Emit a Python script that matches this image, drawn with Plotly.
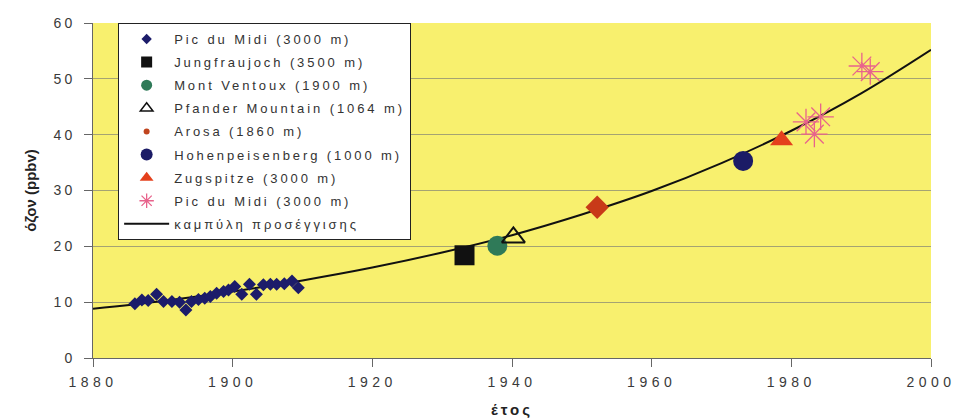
import plotly.graph_objects as go

# Pic du Midi (early series, diamonds)
pdm_years = [1886.0, 1887.0, 1887.9, 1889.1, 1890.1, 1891.3, 1892.4, 1893.3, 1894.1, 1895.1,
             1896.0, 1896.8, 1897.7, 1898.7, 1899.4, 1900.3, 1901.3, 1902.4, 1903.4, 1904.4,
             1905.4, 1906.3, 1907.4, 1908.5, 1909.4]
pdm_ozone = [9.7, 10.4, 10.3, 11.4, 10.1, 10.1, 10.0, 8.6, 10.1, 10.5,
             10.7, 11.0, 11.6, 11.9, 12.2, 12.8, 11.4, 13.2, 11.4, 13.1,
             13.2, 13.2, 13.3, 13.8, 12.6]

jung_year, jung_ozone = [1933.2], [18.4]
vent_year, vent_ozone = [1937.9], [20.1]
pfan_year, pfan_ozone = [1940.2], [21.6]
aros_year, aros_ozone = [1952.2], [27.0]
hohe_year, hohe_ozone = [1973.1], [35.3]
zugs_year, zugs_ozone = [1978.6], [39.0]

pdm2_years = [1982.1, 1984.2, 1983.3, 1990.1, 1991.3]
pdm2_ozone = [42.3, 43.2, 40.1, 52.3, 51.3]

curve_years = [1880, 1890, 1900, 1910, 1920, 1930, 1940, 1950, 1960, 1970, 1980, 1990, 2000]
curve_ozone = [8.8, 10.2, 11.9, 13.9, 16.2, 18.9, 22.0, 25.7, 29.9, 34.9, 40.7, 47.4, 55.2]

x_ticks = [1880, 1900, 1920, 1940, 1960, 1980, 2000]
y_ticks = [0, 10, 20, 30, 40, 50, 60]

series_names = ["Pic du Midi (3000 m)", "Jungfraujoch (3500 m)", "Mont Ventoux (1900 m)",
                "Pfander Mountain (1064 m)", "Arosa (1860 m)", "Hohenpeisenberg (1000 m)",
                "Zugspitze (3000 m)", "Pic du Midi (3000 m)", "καμπύλη προσέγγισης"]

fig = go.Figure()

# plotted marks (legend handled separately with small icons)
fig.add_trace(go.Scatter(x=curve_years, y=curve_ozone, mode="lines", line_shape="spline",
                         line=dict(color="#111111", width=2), showlegend=False, hoverinfo="skip"))
fig.add_trace(go.Scatter(x=pdm_years, y=pdm_ozone, mode="markers", showlegend=False,
                         marker=dict(symbol="diamond", size=10, color="#1c1c6a")))
fig.add_trace(go.Scatter(x=jung_year, y=jung_ozone, mode="markers", showlegend=False,
                         marker=dict(symbol="square", size=20, color="#111111")))
fig.add_trace(go.Scatter(x=vent_year, y=vent_ozone, mode="markers", showlegend=False,
                         marker=dict(symbol="circle", size=20, color="#2f7a58")))
fig.add_trace(go.Scatter(x=pfan_year, y=pfan_ozone, mode="markers", showlegend=False,
                         marker=dict(symbol="triangle-up-open", size=20, color="#111111",
                                     line=dict(width=2))))
fig.add_trace(go.Scatter(x=aros_year, y=aros_ozone, mode="markers", showlegend=False,
                         marker=dict(symbol="diamond", size=18, color="#c83a18")))
fig.add_trace(go.Scatter(x=hohe_year, y=hohe_ozone, mode="markers", showlegend=False,
                         marker=dict(symbol="circle", size=20, color="#1b1b66")))
fig.add_trace(go.Scatter(x=zugs_year, y=zugs_ozone, mode="markers", showlegend=False,
                         marker=dict(symbol="triangle-up", size=20, color="#e4401c")))
fig.add_trace(go.Scatter(x=pdm2_years, y=pdm2_ozone, mode="markers", showlegend=False,
                         marker=dict(symbol="asterisk-open", size=22, color="#e8638c",
                                     line=dict(width=1.3, color="#e8638c"))))

# legend entries (small icons, like the original legend)
legend_markers = [
    dict(symbol="diamond", size=8, color="#1c1c6a"),
    dict(symbol="square", size=11, color="#111111"),
    dict(symbol="circle", size=11, color="#2f7a58"),
    dict(symbol="triangle-up-open", size=11, color="#111111", line=dict(width=1.5)),
    dict(symbol="circle", size=6, color="#c0441e"),
    dict(symbol="circle", size=12, color="#1b1b66"),
    dict(symbol="triangle-up", size=12, color="#e4401c"),
    dict(symbol="asterisk-open", size=12, color="#e8638c", line=dict(width=1.3, color="#e8638c")),
]
for i, name in enumerate(series_names[:-1]):
    fig.add_trace(go.Scatter(x=[None], y=[None], mode="markers", name=name,
                             marker=legend_markers[i], legendgroup=f"g{i}", showlegend=True))
fig.add_trace(go.Scatter(x=[None], y=[None], mode="lines", name=series_names[-1],
                         line=dict(color="#111111", width=2), legendgroup="g8", showlegend=True))

font_fam = "Liberation Sans, Arial, sans-serif"
fig.update_layout(
    width=956, height=418,
    margin=dict(l=93, r=25, t=23, b=60),
    paper_bgcolor="white",
    plot_bgcolor="#f8f06e",
    font=dict(family=font_fam, size=14, color="#333333"),
    showlegend=True,
    legend=dict(x=0.03, y=1.0, xanchor="left", yanchor="top",
                bgcolor="white", bordercolor="#222222", borderwidth=1,
                font=dict(size=13, color="#333333"), tracegroupgap=3.2,
                itemwidth=45, itemsizing="trace"),
    xaxis=dict(range=[1880, 2000], tickvals=x_ticks, ticktext=[str(v) for v in x_ticks],
               showgrid=False, zeroline=False, showline=True, linecolor="#666666",
               ticks="outside", ticklen=8, tickcolor="#666666", automargin=False,
               ticklabelstandoff=3,
               tickfont=dict(size=14, color="#3a3a3a"),
               title=dict(text="<b>έτος</b>", font=dict(size=15, color="#222222"), standoff=18)),
    yaxis=dict(range=[0, 60], tickvals=y_ticks, showgrid=True, gridcolor="#a5a373", gridwidth=1,
               zeroline=False, showline=True, linecolor="#666666", automargin=False,
               ticks="outside", ticklen=8, tickcolor="#666666", ticklabelstandoff=6,
               tickfont=dict(size=14, color="#3a3a3a"),
               title=dict(text="<b>όζον (ppbv)</b>", font=dict(size=15, color="#222222"), standoff=19)),
)

post = """
document.body.style.margin = '0';
var st = document.createElement('style');
st.textContent = '.legendtext{letter-spacing:2.9px;} .xtick text{letter-spacing:4.5px;} .ytick text{letter-spacing:3px;} .g-xtitle text{letter-spacing:3px;}';
document.head.appendChild(st);
var gd = document.getElementById('{plot_id}');
return Plotly.relayout(gd, {'legend.font.size': 13.01});
"""

fig.write_html("out.html", post_script=post, config={"displayModeBar": False})
